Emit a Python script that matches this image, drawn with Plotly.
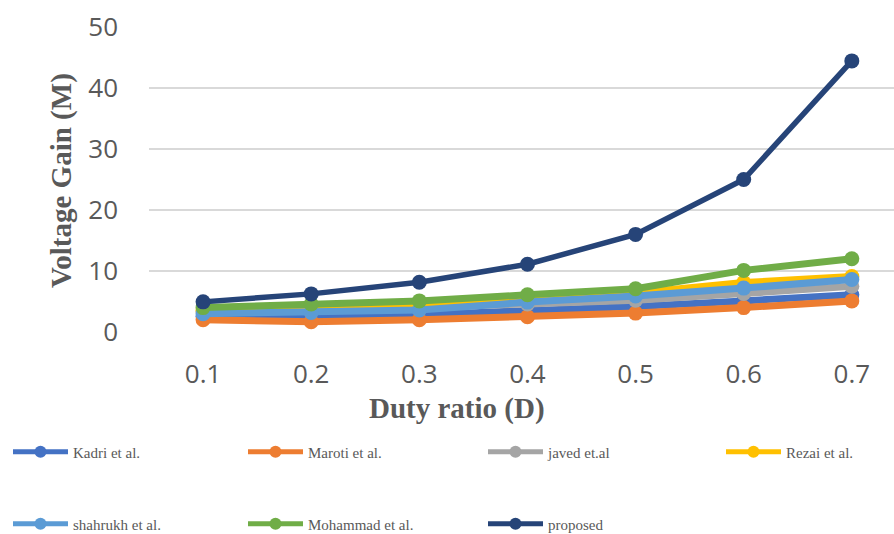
import plotly.graph_objects as go

# Duty ratio categories
duty = ["0.1", "0.2", "0.3", "0.4", "0.5", "0.6", "0.7"]

# Voltage gain of each converter
kadri = [2.6, 2.4, 2.8, 3.4, 4.2, 5.1, 6.1]
maroti = [2.0, 1.7, 2.0, 2.5, 3.1, 4.0, 5.1]
javed = [3.3, 3.6, 4.0, 4.6, 5.2, 6.3, 7.5]
rezai = [3.5, 3.9, 4.3, 5.1, 6.4, 8.1, 9.1]
shahrukh = [3.0, 3.2, 3.6, 4.9, 5.9, 7.2, 8.6]
mohammad = [4.0, 4.6, 5.1, 6.1, 7.1, 10.1, 12.0]
proposed = [4.94, 6.25, 8.16, 11.11, 16.0, 25.0, 44.44]

y_ticks = [0, 10, 20, 30, 40, 50]

names = ["Kadri et al.", "Maroti et al.", "javed et.al", "Rezai et al.",
         "shahrukh et al.", "Mohammad et al.", "proposed"]
values = [kadri, maroti, javed, rezai, shahrukh, mohammad, proposed]
colors = ["#4472C4", "#ED7D31", "#A5A5A5", "#FFC000",
          "#5B9BD5", "#70AD47", "#264478"]

gray = "#595959"
W, H = 894, 534
L, R, T, B = 149, 0, 27, 202
legend_font = dict(family="Liberation Serif", size=15, color=gray)

# Legend grid: four columns, two rows (pixel positions of each entry)
col_px = [8, 243, 483, 721]
row_px = [452, 524]

fig = go.Figure()
layout_legends = {}
for i, (name, vals, color) in enumerate(zip(names, values, colors)):
    key = "legend" if i == 0 else f"legend{i + 1}"
    fig.add_trace(go.Scatter(
        x=duty, y=vals, name=name, mode="lines+markers",
        line=dict(color=color, width=7 if name != "proposed" else 5.5),
        marker=dict(color=color, size=15),
        legend=key,
    ))
    layout_legends[key] = dict(
        orientation="h", xref="container", x=col_px[i % 4] / W, xanchor="left",
        yref="container", y=1 - row_px[i // 4] / H, yanchor="middle",
        font=legend_font, itemwidth=55, itemsizing="constant",
        bgcolor="rgba(0,0,0,0)",
    )

fig.update_layout(
    width=W, height=H,
    margin=dict(l=L, r=R, t=T, b=B),
    plot_bgcolor="white", paper_bgcolor="white",
    showlegend=True,
    xaxis=dict(
        type="category", range=[-0.5, 6.39],
        showgrid=False, zeroline=False, showline=False,
        tickfont=dict(family="Open Sans", size=26, color=gray),
        ticks="", ticklabelstandoff=24,
    ),
    yaxis=dict(
        range=[0, 50], tickvals=y_ticks,
        showgrid=True, gridcolor="#D9D9D9", gridwidth=1.5,
        zeroline=False, showline=False,
        tickfont=dict(family="Open Sans", size=26, color=gray),
        ticks="", ticklabelstandoff=30,
    ),
    **layout_legends,
)

# Axis titles placed in pixel terms relative to the plot area
w_plot = W - L - R
h_plot = H - T - B
fig.add_annotation(
    text="<b>Voltage Gain (M)</b>", textangle=-90, showarrow=False,
    xref="paper", x=(62 - L) / w_plot, xanchor="center",
    yref="paper", y=(H - B - 181) / h_plot, yanchor="middle",
    font=dict(family="Liberation Serif", size=29, color=gray),
)
fig.add_annotation(
    text="<b>Duty ratio (D)</b>", showarrow=False,
    xref="paper", x=(457 - L) / w_plot, xanchor="center",
    yref="paper", y=(H - B - 408) / h_plot, yanchor="middle",
    font=dict(family="Liberation Serif", size=29, color=gray),
)

fig.write_html("out.html")
